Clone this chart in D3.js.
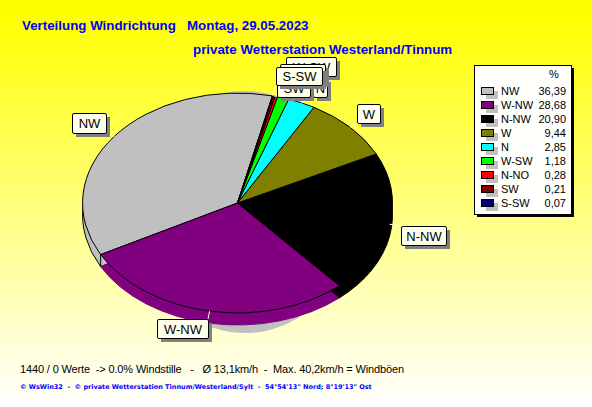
<!DOCTYPE html>
<html><head><meta charset="utf-8"><style>html,body{margin:0;padding:0;overflow:hidden}svg{display:block}</style>
<script src="https://cdn.jsdelivr.net/npm/d3@7"></script></head><body><script>
const directions=["NW","W-NW","N-NW","W","N","W-SW","N-NO","SW","S-SW"];
const percents=[36.39,28.68,20.90,9.44,2.85,1.18,0.28,0.21,0.07];
const percentLabels=["36,39","28,68","20,90","9,44","2,85","1,18","0,28","0,21","0,07"];
const colours=["#c0c0c0","#800080","#000000","#808000","#00ffff","#00ff00","#ff0000","#800000","#000080"];
const drawOrder=["NW","S-SW","SW","N-NO","W-SW","N","W","N-NW","W-NW"];
const labelOrder=["W-SW","N","SW","N-NO","S-SW","W","N-NW","W-NW","NW"];
const labelBoxes={"NW":[72,113,34,20],"W-NW":[157,319,51,19],"N-NW":[401,226,45,19],"W":[357,104,23,19],"N":[313,78,14,19],"W-SW":[286,57,50,19],"N-NO":[280,64,45,19],"SW":[277,78,33,19],"S-SW":[276,67,46,18]};
const W=592,H=407,cx=237.5,cy=203,rx=155,ry=110,depth=12;
const svg=d3.select("body").append("svg").attr("width",W).attr("height",H).style("font-family","'Liberation Sans',Arial,sans-serif");
const defs=svg.append("defs");
const g=defs.append("linearGradient").attr("id","bg").attr("x1",0).attr("y1",0).attr("x2",0).attr("y2",1);
g.append("stop").attr("offset",0.03).attr("stop-color","#ffff00");
g.append("stop").attr("offset",1).attr("stop-color","#ffffff");
svg.append("rect").attr("width",W).attr("height",H).attr("fill","url(#bg)");
svg.append("text").attr("x",22).attr("y",30).attr("font-size",13.33).attr("font-weight","bold").attr("fill","#0000ff").style("white-space","pre").text("Verteilung Windrichtung   Montag, 29.05.2023");
svg.append("text").attr("x",193).attr("y",54).attr("font-size",13.33).attr("font-weight","bold").attr("fill","#0000ff").text("private Wetterstation Westerland/Tinnum");
const data=directions.map((d,i)=>({d,v:percents[i],c:colours[i]}));
const pie=d3.pie().value(d=>d.v).sort((a,b)=>drawOrder.indexOf(a.d)-drawOrder.indexOf(b.d)).startAngle(-118*Math.PI/180).endAngle(242*Math.PI/180);
const arcs=pie(data);
const arc=d3.arc().innerRadius(0).outerRadius(1);
const layer=(dx,dy)=>svg.append("g").attr("transform",`translate(${cx+dx},${cy+dy}) scale(${rx},${ry})`);
svg.append("ellipse").attr("cx",245).attr("cy",212).attr("rx",110).attr("ry",121).attr("fill","#c0c0c0");
layer(0,depth).selectAll("path").data(arcs).join("path").attr("d",arc).attr("fill",d=>d.data.c).attr("stroke",d=>d.data.d==="NW"?"#000":d.data.c).attr("stroke-width",1).attr("vector-effect","non-scaling-stroke");
const nwStart=arcs.find(a=>a.data.d==="NW").startAngle;
const ex=cx+rx*Math.sin(nwStart),ey=cy-ry*Math.cos(nwStart);
svg.append("line").attr("x1",ex).attr("x2",ex).attr("y1",ey).attr("y2",ey+depth).attr("stroke","#000");
layer(0,0).selectAll("path").data(arcs).join("path").attr("d",arc).attr("fill",d=>d.data.c).attr("stroke","#000").attr("stroke-width",1).attr("vector-effect","non-scaling-stroke");
const lab=svg.append("g");
arcs.forEach(a=>{const [x,y,w,h]=labelBoxes[a.data.d];const m=(a.startAngle+a.endAngle)/2;
 const px=cx+rx*Math.sin(m),py=cy-ry*Math.cos(m);
 lab.append("line").attr("x1",px).attr("y1",py).attr("x2",Math.max(x,Math.min(x+w,px))).attr("y2",Math.max(y,Math.min(y+h,py))).attr("stroke","#fff");
});
labelOrder.forEach(n=>{const [x,y,w,h]=labelBoxes[n];
 lab.append("rect").attr("x",x+4).attr("y",y+4).attr("width",w).attr("height",h).attr("fill","#808080");
 lab.append("rect").attr("x",x+.5).attr("y",y+.5).attr("width",w).attr("height",h).attr("rx",1.5).attr("fill","#ffffee").attr("stroke","#000");
 lab.append("text").attr("x",x+w/2+.5).attr("y",y+h/2+5).attr("text-anchor","middle").attr("font-size",13).attr("fill","#000").text(n);
});
const lx=474,ly=65,lw=97,lh=149;
svg.append("rect").attr("x",lx+3).attr("y",ly+3).attr("width",lw).attr("height",lh).attr("fill","#000");
svg.append("rect").attr("x",lx+.5).attr("y",ly+.5).attr("width",lw).attr("height",lh).attr("fill","#fffffc").attr("stroke","#000");
svg.append("text").attr("x",549).attr("y",78).attr("font-size",11).text("%");
const rowY=d3.scalePoint().domain(directions).range([91,203]);
directions.forEach((n,i)=>{const y=rowY(n);
 svg.append("rect").attr("x",486).attr("y",y).attr("width",12).attr("height",8).attr("fill","#c0c0c0");
 svg.append("rect").attr("x",481.5).attr("y",y-3.5).attr("width",12).attr("height",7).attr("fill",colours[i]).attr("stroke","#000");
 svg.append("text").attr("x",501).attr("y",y+4).attr("font-size",11).text(n);
 svg.append("text").attr("x",566).attr("y",y+4).attr("font-size",11).attr("text-anchor","end").text(percentLabels[i]);
});
svg.append("text").attr("x",20).attr("y",373).attr("font-size",11).attr("textLength",384).style("white-space","pre").text("1440 / 0 Werte  -> 0.0% Windstille   -   Ø 13,1km/h  -  Max. 40,2km/h = Windböen");
svg.append("text").attr("x",20).attr("y",389).attr("font-size",6.5).attr("font-weight","bold").attr("fill","#0000ff").style("font-family","'DejaVu Sans'").style("white-space","pre").text("© WsWin32  -  © private Wetterstation Tinnum/Westerland/Sylt  -  54°54'13\" Nord; 8°19'13\" Ost");
</script></body></html>
